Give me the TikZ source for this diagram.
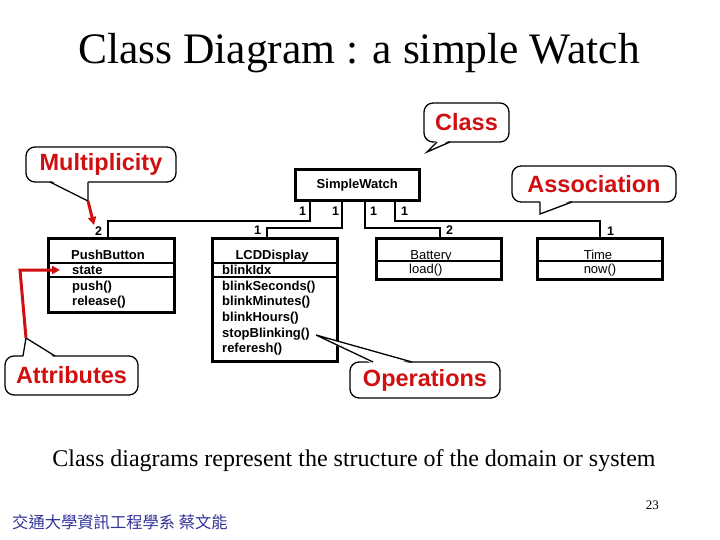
\documentclass[tikz,border=0pt]{standalone}
\usepackage{fontspec}
\setmainfont{Liberation Serif}
\newfontfamily\arialf{Liberation Sans}
\newfontfamily\cjkf{Noto Sans CJK TC}
\usetikzlibrary{arrows.meta,calc}
\definecolor{calred}{RGB}{208,16,16}
\definecolor{footblue}{RGB}{51,51,153}
\begin{document}
\begin{tikzpicture}[x=1pt,y=-1pt,
  umlbox/.style={draw=black, line width=2.6pt, fill=white, inner sep=0pt, anchor=north west},
  umlline/.style={line width=2.6pt},
  assoc/.style={line width=2.6pt, line join=miter},
  btxt/.style={font=\arialf\bfseries\fontsize{13}{15}\selectfont, inner sep=0pt},
  rtxt/.style={font=\arialf\fontsize{13}{15}\selectfont, inner sep=0pt},
  mult/.style={font=\arialf\bfseries\fontsize{12.5}{14}\selectfont, inner sep=0pt, anchor=base west},
  callout/.style={draw=black, line width=1.3pt, rounded corners=9pt, fill=white, inner sep=0pt,
    font=\arialf\bfseries\fontsize{23.5}{28}\selectfont, text=calred},
  tail/.style={line width=1.3pt, line join=miter},
  redarrow/.style={draw=calred, line width=3pt, -{Triangle[length=8pt,width=8pt]}}
]
\useasboundingbox (0,0) rectangle (720,540);
\fill[white] (0,0) rectangle (720,540);

% title
\node[font=\fontsize{43.5}{50}\selectfont, anchor=base, inner sep=0pt] (title) at (359,64) {Class Diagram : a simple Watch};

% classes
\node[umlbox, minimum width=124pt, minimum height=31pt, font=\arialf\bfseries\fontsize{13}{15}\selectfont] (sw) at (294,168) {SimpleWatch};
\node[umlbox, minimum width=126pt, minimum height=74pt] (pb) at (47,237) {};
\node[umlbox, minimum width=125pt, minimum height=123pt] (lcd) at (211,237) {};
\node[umlbox, minimum width=125pt, minimum height=41pt] (bat) at (375,237) {};
\node[umlbox, minimum width=125pt, minimum height=41pt] (tim) at (536,237) {};

% compartments
\draw[umlline] (pb.west |- 0,263) -- (pb.east |- 0,263);
\draw[umlline] (pb.west |- 0,277) -- (pb.east |- 0,277);
\draw[umlline] (lcd.west |- 0,263) -- (lcd.east |- 0,263);
\draw[umlline] (lcd.west |- 0,277) -- (lcd.east |- 0,277);
\draw[umlline] (bat.west |- 0,261) -- (bat.east |- 0,261);
\draw[umlline] (tim.west |- 0,261) -- (tim.east |- 0,261);

% texts
\node[btxt, anchor=base] (pbn) at (108,259) {PushButton};
\node[btxt, anchor=base west] (pba) at (72,274) {state};
\node[btxt, anchor=base west] (pbo1) at (72,290) {push()};
\node[btxt, anchor=base west] (pbo2) at (72,305) {release()};

\node[btxt, anchor=base] (lcdn) at (272,259) {LCDDisplay};
\node[btxt, anchor=base west] (lcda) at (222,274) {blinkIdx};
\node[btxt, anchor=base west] (lcdo1) at (222,290) {blinkSeconds()};
\node[btxt, anchor=base west] (lcdo2) at (222,305) {blinkMinutes()};
\node[btxt, anchor=base west] (lcdo3) at (222,321) {blinkHours()};
\node[btxt, anchor=base west] (lcdo4) at (222,337) {stopBlinking()};
\node[btxt, anchor=base west] (lcdo5) at (222,352) {referesh()};

\node[rtxt, anchor=base] (batn) at (431,259) {Battery};
\node[rtxt, anchor=base west] (bato) at (409,273) {load()};
\node[rtxt, anchor=base] (timn) at (598,259) {Time};
\node[rtxt, anchor=base] (timo) at (600,273) {now()};

% associations
\draw[assoc] (310,0 |- sw.south) |- (108,221) -- (108,0 |- pb.north);
\draw[assoc] (342,0 |- sw.south) |- (267,228) -- (267,0 |- lcd.north);
\draw[assoc] (365,0 |- sw.south) |- (440,228) -- (440,0 |- bat.north);
\draw[assoc] (395,0 |- sw.south) |- (600,221) -- (600,0 |- tim.north);

% multiplicities
\node[mult] (m1a) at (299,215) {1};
\node[mult] (m2a) at (332,215) {1};
\node[mult] (m3a) at (370,215) {1};
\node[mult] (m4a) at (401,215) {1};
\node[mult] (m1b) at (95,236) {2};
\node[mult] (m2b) at (254,235) {1};
\node[mult] (m3b) at (446,235) {2};
\node[mult] (m4b) at (607,236) {1};

% callouts
\node[callout, minimum width=85pt, minimum height=39pt] (ccls) at (466.5,122.5) {Class};
\fill[white] (437,140) -- (427,152) -- (450,140) -- cycle;
\draw[tail] (437,142) -- (427,152) -- (450,142);

\node[callout, minimum width=150pt, minimum height=35pt] (cmul) at (101,164.5) {Multiplicity};
\fill[white] (50,180) -- (88,201) -- (88,180) -- cycle;
\draw[tail] (50,182) -- (88,201) -- (88,182);
\coordinate (multtip) at (88,201);
\coordinate (multend) at (94,225);
\draw[redarrow] (multtip) -- (multend);

\node[callout, minimum width=164pt, minimum height=36pt] (cass) at (594,184) {Association};
\fill[white] (540,200) -- (540,214) -- (572,200) -- cycle;
\draw[tail] (540,202) -- (540,214) -- (572,202);

\node[callout, minimum width=133pt, minimum height=39pt] (catt) at (71.5,375.5) {Attributes};
\fill[white] (23,358) -- (26,338) -- (55,358) -- cycle;
\draw[tail] (23,356) -- (26,338) -- (55,356);
\coordinate (atttip) at (26,338);
\coordinate (attend) at (60,270);
\draw[redarrow, line join=miter] (atttip) -- (20,270) -- (attend);

\node[callout, minimum width=150pt, minimum height=36pt] (cop) at (425,380) {Operations};
\fill[white] (373,364) -- (316,335) -- (412,364) -- cycle;
\draw[tail] (373,362) -- (316,335) -- (412,362);

% footer
\node[font=\fontsize{24}{28}\selectfont, anchor=base, inner sep=0pt] (caption) at (354,466) {Class diagrams represent the structure of the domain or system};
\node[font=\fontsize{13}{15}\selectfont, anchor=base east, inner sep=0pt] (pnum) at (659,509) {23};
\node[font=\cjkf\fontsize{16.3}{19}\selectfont, text=footblue, anchor=base west, inner sep=0pt] (foot) at (12,528) {交通大學資訊工程學系 蔡文能};
\end{tikzpicture}
\end{document}
